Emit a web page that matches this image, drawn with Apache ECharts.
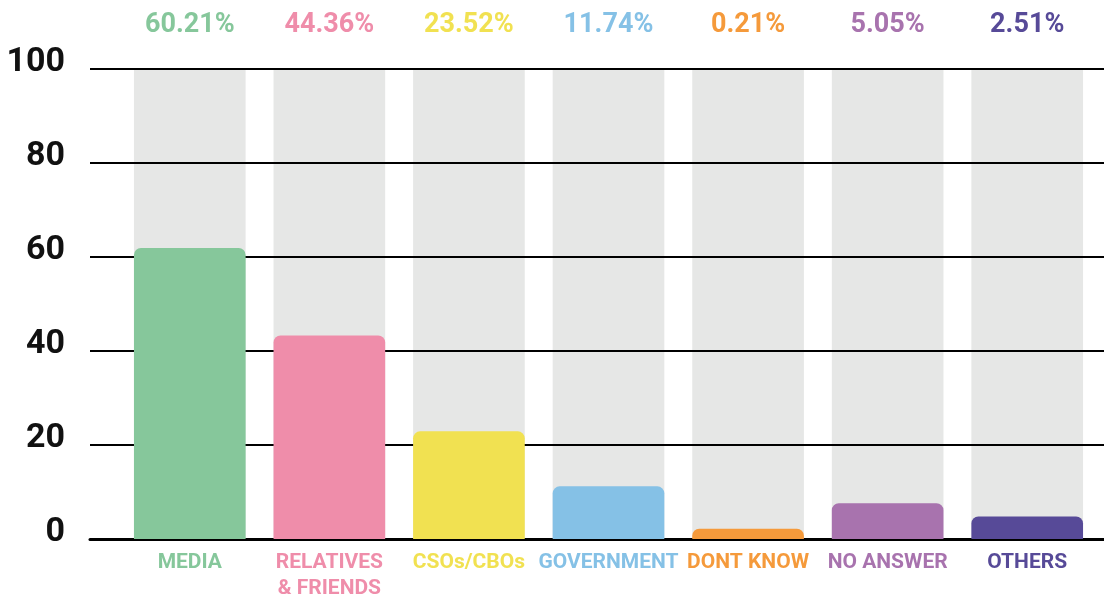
<!DOCTYPE html>
<html>
<head>
<meta charset="utf-8">
<script src="https://cdn.jsdelivr.net/npm/echarts@6/dist/echarts.min.js"></script>
<style>
html,body{margin:0;padding:0;background:#fff;}
#chart{width:1104px;height:596px;}
</style>
</head>
<body>
<div id="chart"></div>
<script>
// Data
const categories = ['MEDIA', 'RELATIVES\n& FRIENDS', 'CSOs/CBOs', 'GOVERNMENT', 'DONT KNOW', 'NO ANSWER', 'OTHERS'];
const barValues = [61.9, 43.3, 22.9, 11.2, 2.2, 7.6, 4.8];
const percentLabels = ['60.21%', '44.36%', '23.52%', '11.74%', '0.21%', '5.05%', '2.51%'];
const backgroundValues = [100, 100, 100, 100, 100, 100, 100];
const yTicks = [0, 20, 40, 60, 80, 100];

// Styles
const colors = ['#86C79B', '#EF8DAA', '#F1E151', '#85C1E6', '#F59A3B', '#A873AE', '#574A98'];
const FONT = 'Roboto, "DejaVu Sans", sans-serif';

const chart = echarts.init(document.getElementById('chart'), null, {renderer: 'canvas'});

const option = {
  animation: false,
  backgroundColor: '#fff',
  grid: [
    {left: 120, right: 7, top: 69, bottom: 57, containLabel: false, outerBoundsMode: 'none'},
    {left: 90, right: 0, top: 69, bottom: 57, containLabel: false, outerBoundsMode: 'none'}
  ],
  xAxis: [
    {
      type: 'category',
      gridIndex: 0,
      data: categories,
      axisLine: {show: false},
      axisTick: {show: false},
      axisLabel: {
        interval: 0,
        margin: 11,
        fontFamily: FONT,
        fontSize: 21,
        fontWeight: 'bold',
        lineHeight: 26,
        verticalAlign: 'top',
        color: (v, i) => colors[i]
      }
    },
    {
      type: 'category',
      gridIndex: 1,
      data: categories,
      z: 1,
      axisLine: {show: true, lineStyle: {color: '#000', width: 3}},
      axisTick: {show: false},
      axisLabel: {show: false}
    }
  ],
  yAxis: [
    {
      type: 'value',
      gridIndex: 0,
      min: yTicks[0],
      max: yTicks[yTicks.length - 1],
      interval: 20,
      show: false,
      splitLine: {show: false}
    },
    {
      type: 'value',
      gridIndex: 1,
      min: yTicks[0],
      max: yTicks[yTicks.length - 1],
      interval: 20,
      z: 1,
      axisLine: {show: false},
      axisTick: {show: false},
      splitLine: {show: true, lineStyle: {color: '#000', width: 2}},
      axisLabel: {
        margin: 25,
        fontFamily: FONT,
        fontSize: 34,
        fontWeight: 'bold',
        color: '#111',
        verticalAlign: 'bottom',
        lineHeight: 13
      }
    }
  ],
  series: [
    {
      type: 'bar',
      xAxisIndex: 0,
      yAxisIndex: 0,
      z: 0,
      barWidth: '80%',
      barGap: '-100%',
      silent: true,
      data: backgroundValues.map((v, i) => ({
        value: v,
        label: {color: colors[i]}
      })),
      itemStyle: {color: '#E6E7E6'},
      label: {
        show: true,
        position: 'top',
        distance: 30,
        fontFamily: FONT,
        fontSize: 27,
        fontWeight: 'bold',
        formatter: (p) => percentLabels[p.dataIndex]
      }
    },
    {
      type: 'bar',
      xAxisIndex: 0,
      yAxisIndex: 0,
      z: 3,
      barWidth: '80%',
      barGap: '-100%',
      data: barValues.map((v, i) => ({
        value: v,
        itemStyle: {color: colors[i]}
      })),
      itemStyle: {borderRadius: [7, 7, 0, 0]}
    }
  ]
};

chart.setOption(option);
</script>
</body>
</html>
